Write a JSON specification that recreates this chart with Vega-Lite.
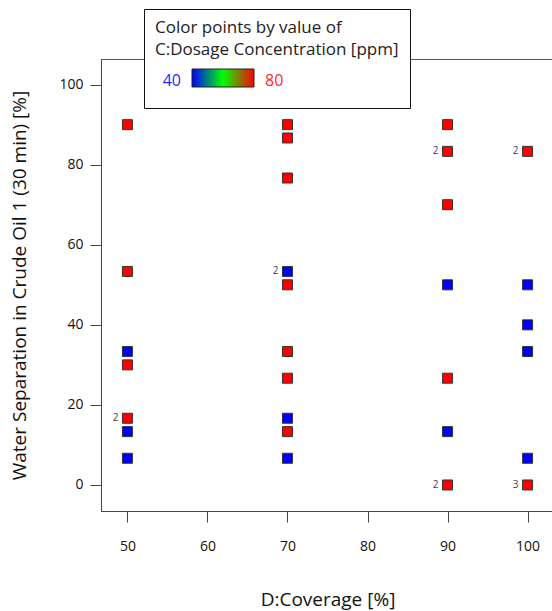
{
  "$schema": "https://vega.github.io/schema/vega-lite/v6.json",
  "autosize": {"type": "none"},
  "padding": {"left": 101, "top": 59, "right": 0, "bottom": 100},
  "width": 453,
  "height": 452,
  "background": "white",
  "config": {
    "font": "Open Sans",
    "view": {"stroke": "#555", "strokeWidth": 1},
    "axis": {
      "grid": false,
      "domainColor": "#444",
      "tickColor": "#444",
      "tickSize": 11,
      "labelColor": "#111",
      "labelFontSize": 14,
      "titleFontSize": 19,
      "titleFontWeight": "normal",
      "titleColor": "#111"
    }
  },
  "data": {
    "values": [
      {"coverage": 50, "water": 90, "dosage": 80, "label": ""},
      {"coverage": 50, "water": 53.33, "dosage": 80, "label": ""},
      {"coverage": 50, "water": 33.33, "dosage": 40, "label": ""},
      {"coverage": 50, "water": 30, "dosage": 80, "label": ""},
      {"coverage": 50, "water": 16.67, "dosage": 80, "label": "2"},
      {"coverage": 50, "water": 13.33, "dosage": 40, "label": ""},
      {"coverage": 50, "water": 6.67, "dosage": 40, "label": ""},
      {"coverage": 70, "water": 90, "dosage": 80, "label": ""},
      {"coverage": 70, "water": 86.67, "dosage": 80, "label": ""},
      {"coverage": 70, "water": 76.67, "dosage": 80, "label": ""},
      {"coverage": 70, "water": 53.33, "dosage": 40, "label": "2"},
      {"coverage": 70, "water": 50, "dosage": 80, "label": ""},
      {"coverage": 70, "water": 33.33, "dosage": 80, "label": ""},
      {"coverage": 70, "water": 26.67, "dosage": 80, "label": ""},
      {"coverage": 70, "water": 16.67, "dosage": 40, "label": ""},
      {"coverage": 70, "water": 13.33, "dosage": 80, "label": ""},
      {"coverage": 70, "water": 6.67, "dosage": 40, "label": ""},
      {"coverage": 90, "water": 90, "dosage": 80, "label": ""},
      {"coverage": 90, "water": 83.33, "dosage": 80, "label": "2"},
      {"coverage": 90, "water": 70, "dosage": 80, "label": ""},
      {"coverage": 90, "water": 50, "dosage": 40, "label": ""},
      {"coverage": 90, "water": 26.67, "dosage": 80, "label": ""},
      {"coverage": 90, "water": 13.33, "dosage": 40, "label": ""},
      {"coverage": 90, "water": 0, "dosage": 80, "label": "2"},
      {"coverage": 100, "water": 83.33, "dosage": 80, "label": "2"},
      {"coverage": 100, "water": 50, "dosage": 40, "label": ""},
      {"coverage": 100, "water": 40, "dosage": 40, "label": ""},
      {"coverage": 100, "water": 33.33, "dosage": 40, "label": ""},
      {"coverage": 100, "water": 6.67, "dosage": 40, "label": ""},
      {"coverage": 100, "water": 0, "dosage": 80, "label": "3"}
    ]
  },
  "encoding": {
    "x": {
      "field": "coverage", "type": "quantitative",
      "scale": {"domain": [46.7, 103.3], "nice": false, "zero": false},
      "axis": {"values": [50, 60, 70, 80, 90, 100], "title": "D:Coverage [%]", "titlePadding": 37, "labelPadding": 17}
    },
    "y": {
      "field": "water", "type": "quantitative",
      "scale": {"domain": [-6.5, 106.4], "nice": false, "zero": false},
      "axis": {"values": [0, 20, 40, 60, 80, 100], "title": "Water Separation in Crude Oil 1 (30 min) [%]", "titlePadding": 29, "labelPadding": 7}
    }
  },
  "layer": [
    {
      "mark": {"type": "square", "size": 100, "filled": true, "opacity": 1, "stroke": "#333", "strokeWidth": 1},
      "encoding": {
        "color": {
          "field": "dosage", "type": "quantitative",
          "scale": {"domain": [40, 60, 80], "range": ["#0000ff", "#00ff00", "#ff0000"], "interpolate": "rgb"},
          "legend": {
            "title": ["Color points by value of", "C:Dosage Concentration [ppm]"],
            "orient": "none",
            "legendX": 43,
            "legendY": -50,
            "direction": "horizontal",
            "gradientLength": 62,
            "gradientThickness": 18,
            "gradientStrokeColor": "#222",
            "gradientStrokeWidth": 1,
            "values": [40, 80],
            "labelOffset": -14,
            "labelFontSize": 16,
            "labelExpr": "[datum.label, '']",
            "titleFontSize": 17,
            "titleLineHeight": 22,
            "titleFontWeight": "normal",
            "titleColor": "#222",
            "titleLimit": 400,
            "titlePadding": 10,
            "padding": 11,
            "strokeColor": "#111",
            "fillColor": "white",
            "offset": 0,
            "encoding": {
              "gradient": {
                "x": {"value": 37}
              },
              "labels": {
                "align": {"value": {"expr": "datum.value < 60 ? 'right' : 'left'"}},
                "baseline": {"value": "top"},
                "lineHeight": {"value": 8},
                "dx": {"value": {"expr": "datum.value < 60 ? 26 : 48"}},
                "fill": {"value": {"expr": "datum.value < 60 ? '#2828ff' : '#ff2828'"}}
              }
            }
          }
        }
      }
    },
    {
      "mark": {"type": "text", "align": "right", "baseline": "middle", "dx": -9, "fontSize": 10, "color": "#444"},
      "encoding": {"text": {"field": "label"}}
    }
  ]
}
